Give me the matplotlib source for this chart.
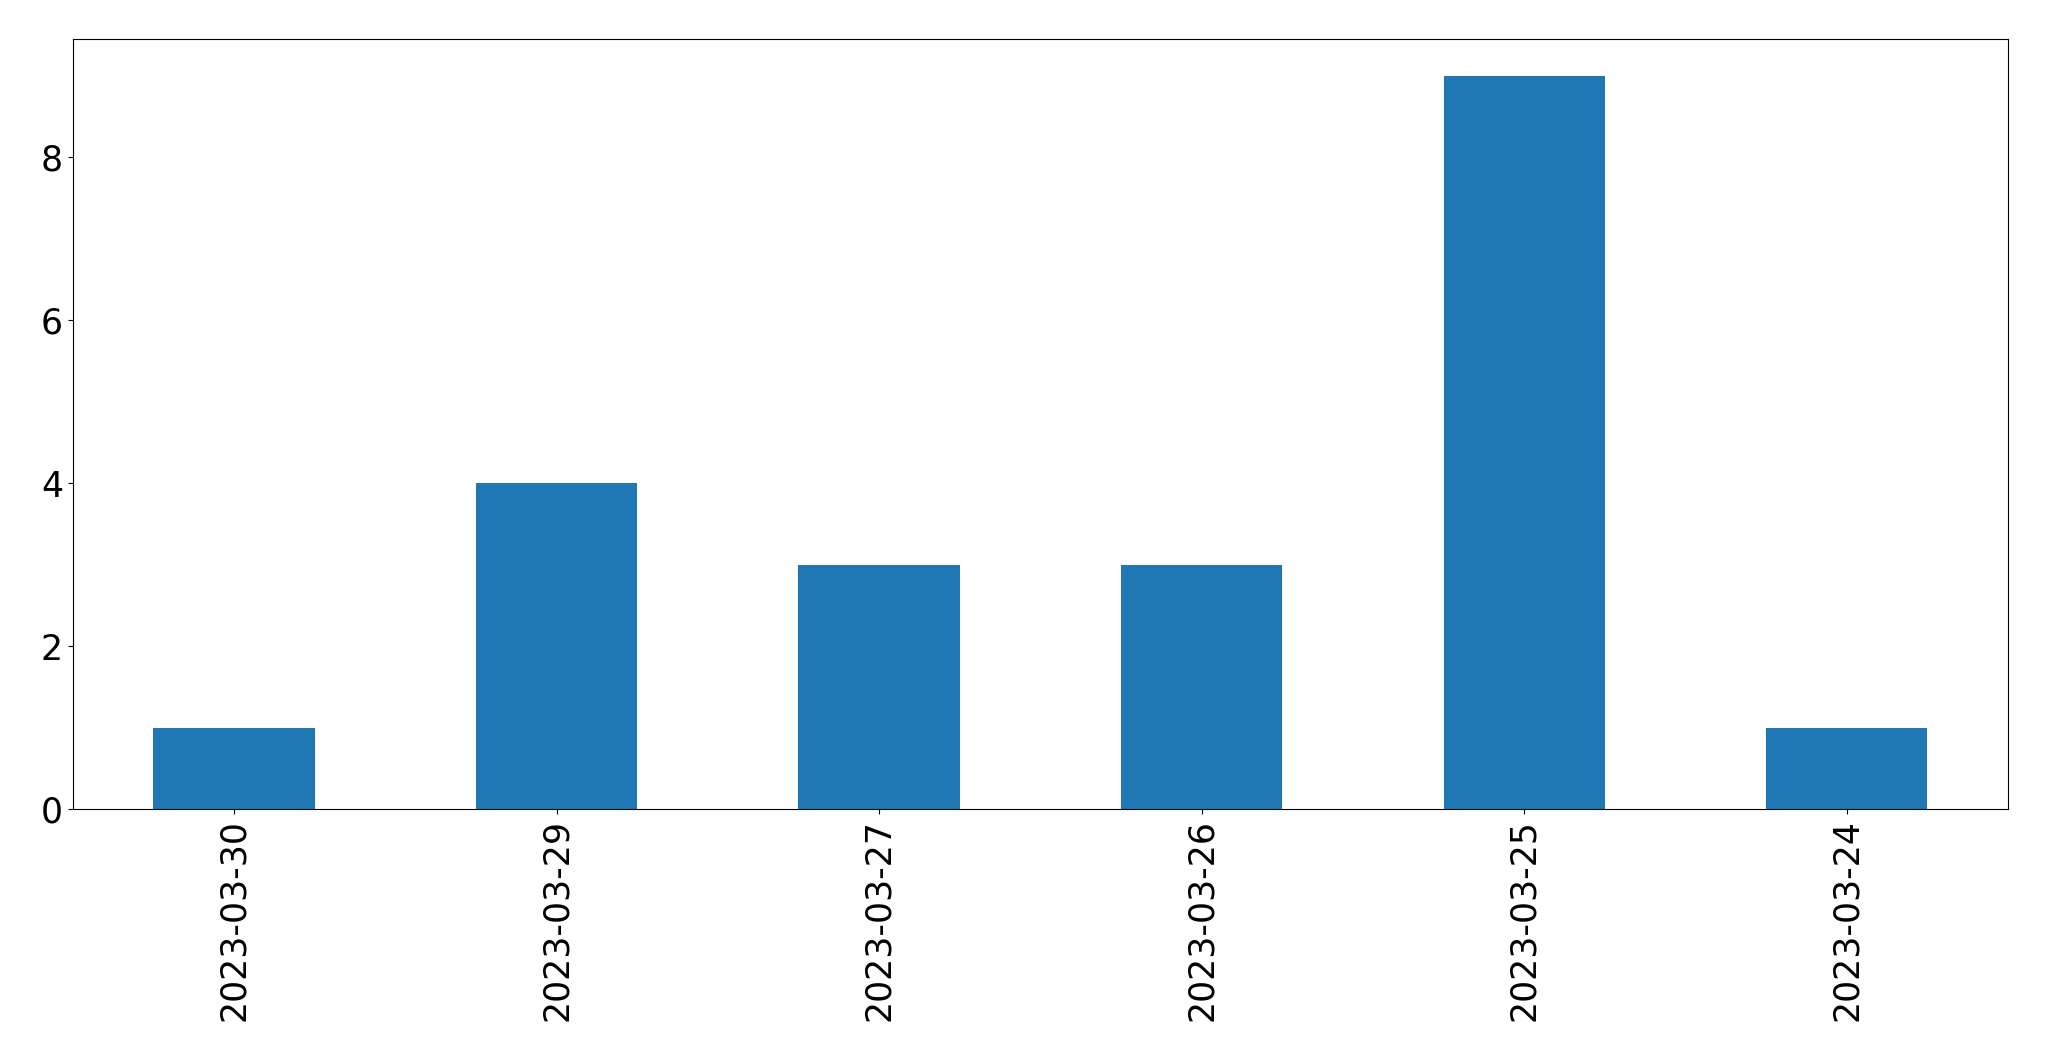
import matplotlib
matplotlib.use('Agg')
import matplotlib.pyplot as plt
import pandas as pd

# counts per day, in the order shown
dates = ['2023-03-30', '2023-03-29', '2023-03-27', '2023-03-26', '2023-03-25', '2023-03-24']
counts = [1, 4, 3, 3, 9, 1]

series = pd.Series(counts, index=dates)

fig = plt.figure(figsize=(20.49, 10.61), dpi=100)
ax = fig.add_axes([0.0355, 0.2375, 0.9445, 0.7255])
series.plot(kind='bar', ax=ax, color='#1f77b4')

ax.tick_params(axis='both', which='major', labelsize=25)
ax.set_yticks([0, 2, 4, 6, 8])

fig.savefig('out.png', dpi=100)
